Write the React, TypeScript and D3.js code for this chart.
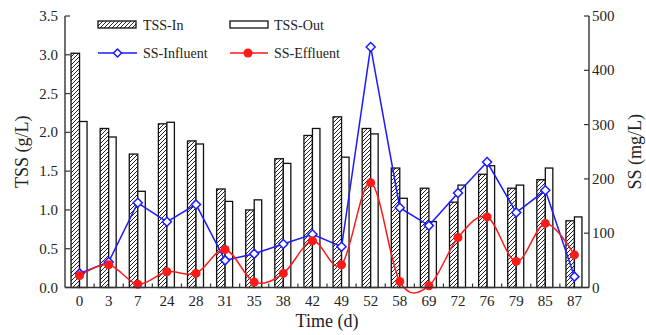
import React from "react";
import * as d3 from "d3";

const days = ["0", "3", "7", "24", "28", "31", "35", "38", "42", "49", "52", "58", "69", "72", "76", "79", "85", "87"];
const tssIn = [3.02, 2.05, 1.72, 2.11, 1.89, 1.27, 1.0, 1.66, 1.96, 2.2, 2.05, 1.54, 1.28, 1.1, 1.46, 1.28, 1.39, 0.86];
const tssOut = [2.14, 1.94, 1.24, 2.13, 1.85, 1.11, 1.13, 1.6, 2.05, 1.68, 1.98, 1.15, 0.85, 1.32, 1.57, 1.32, 1.54, 0.91];
const ssInfluent = [26, 47, 156, 121, 153, 50, 62, 80, 98, 75, 443, 147, 114, 174, 231, 138, 179, 20];
const ssEffluent = [22, 42, 6, 29, 26, 70, 10, 26, 86, 42, 193, 11, 3, 92, 130, 48, 118, 60];
const leftTicks = [0, 0.5, 1, 1.5, 2, 2.5, 3, 3.5];
const rightTicks = [0, 100, 200, 300, 400, 500];

const W = 646;
const H = 335;
const font = "'Liberation Serif', 'Times New Roman', serif";
const axisColor = "#333";

export default function App() {
  const left = 65;
  const right = 589;
  const bottom = 287.5;
  const top = 16;

  const x = d3.scaleBand<string>().domain(days).range([left, right]).padding(0);
  const yL = d3.scaleLinear().domain([0, 3.5]).range([bottom, top]);
  const yR = d3.scaleLinear().domain([0, 500]).range([bottom, top]);
  const cx = (i: number) => (x(days[i]) as number) + x.bandwidth() / 2;

  const blueLine = d3.line<number>().x((_, i) => cx(i)).y((d) => yR(d));
  const redLine = d3
    .line<number>()
    .x((_, i) => cx(i))
    .y((d) => yR(d))
    .curve(d3.curveCardinal.tension(0));

  const diamond = (px: number, py: number, r = 4.5) =>
    `M${px},${py - r}L${px + r},${py}L${px},${py + r}L${px - r},${py}Z`;

  const bw1 = 8.5;
  const bw2 = 7.5;

  return (
    <svg
      width={W}
      height={H}
      style={{ position: "absolute", left: 0, top: 0, background: "#fff" }}
      fontFamily={font}
    >
      <defs>
        <pattern id="hatch" patternUnits="userSpaceOnUse" width="4" height="4">
          <rect width="4" height="4" fill="#fff" />
          <path d="M-1,1 l2,-2 M0,4 l4,-4 M3,5 l2,-2" stroke="#222" strokeWidth="1" />
        </pattern>
      </defs>

      {/* bars */}
      {tssIn.map((v, i) => (
        <rect
          key={"in" + i}
          x={cx(i) - bw1}
          y={yL(v)}
          width={bw1}
          height={bottom - yL(v)}
          fill="url(#hatch)"
          stroke="#111"
          strokeWidth={1.3}
        />
      ))}
      {tssOut.map((v, i) => (
        <rect
          key={"out" + i}
          x={cx(i)}
          y={yL(v)}
          width={bw2}
          height={bottom - yL(v)}
          fill="#fff"
          stroke="#111"
          strokeWidth={1.3}
        />
      ))}

      {/* lines */}
      <path d={blueLine(ssInfluent) || ""} fill="none" stroke="#1a1aff" strokeWidth={1.5} />
      <path d={redLine(ssEffluent) || ""} fill="none" stroke="#ff1a1a" strokeWidth={1.5} />
      {ssInfluent.map((v, i) => (
        <path key={"d" + i} d={diamond(cx(i), yR(v))} fill="#fff" stroke="#1a1aff" strokeWidth={1.5} />
      ))}
      {ssEffluent.map((v, i) => (
        <circle key={"c" + i} cx={cx(i)} cy={yR(v)} r={4.5} fill="#ff1a1a" />
      ))}

      {/* axes */}
      <line x1={left} x2={right} y1={bottom} y2={bottom} stroke={axisColor} strokeWidth={1.4} />
      <line x1={left} x2={left} y1={top} y2={bottom} stroke={axisColor} strokeWidth={1.4} />
      <line x1={right} x2={right} y1={top} y2={bottom} stroke={axisColor} strokeWidth={1.4} />

      {days.slice(1).map((d) => (
        <line
          key={"xt" + d}
          x1={x(d) as number}
          x2={x(d) as number}
          y1={bottom}
          y2={bottom - 4}
          stroke={axisColor}
          strokeWidth={1.2}
        />
      ))}
      {days.map((d, i) => (
        <text key={"xl" + d} x={cx(i)} y={bottom + 18} fontSize={15} textAnchor="middle" fill="#222">
          {d}
        </text>
      ))}

      {leftTicks.map((t) => (
        <g key={"lt" + t}>
          <line x1={left} x2={left + 5} y1={yL(t)} y2={yL(t)} stroke={axisColor} strokeWidth={1.2} />
          <text x={left - 7} y={yL(t) + 5} fontSize={15} textAnchor="end" fill="#222">
            {d3.format(".1f")(t)}
          </text>
        </g>
      ))}
      {rightTicks.map((t) => (
        <g key={"rt" + t}>
          <line x1={right - 5} x2={right} y1={yR(t)} y2={yR(t)} stroke={axisColor} strokeWidth={1.2} />
          <text x={right + 3} y={yR(t) + 5} fontSize={15} textAnchor="start" fill="#222">
            {t}
          </text>
        </g>
      ))}

      {/* titles */}
      <text x={(left + right) / 2} y={327} fontSize={18} textAnchor="middle" fill="#222">
        Time (d)
      </text>
      <text
        transform={`translate(28,${(top + bottom) / 2}) rotate(-90)`}
        fontSize={18}
        textAnchor="middle"
        fill="#222"
      >
        TSS (g/L)
      </text>
      <text
        transform={`translate(641,${(top + bottom) / 2}) rotate(-90)`}
        fontSize={18}
        textAnchor="middle"
        fill="#222"
      >
        SS (mg/L)
      </text>

      {/* legend */}
      <rect x={98} y={21} width={38} height={7} fill="url(#hatch)" stroke="#111" strokeWidth={1.3} />
      <text x={143} y={29.5} fontSize={14} fill="#222">TSS-In</text>
      <rect x={230} y={21} width={38} height={7} fill="#fff" stroke="#111" strokeWidth={1.3} />
      <text x={274} y={29.5} fontSize={14} fill="#222">TSS-Out</text>

      <line x1={98} x2={137} y1={53} y2={53} stroke="#1a1aff" strokeWidth={1.5} />
      <path d={diamond(117.5, 53, 4)} fill="#fff" stroke="#1a1aff" strokeWidth={1.5} />
      <text x={143} y={58} fontSize={14} fill="#222">SS-Influent</text>
      <line x1={230} x2={268} y1={53} y2={53} stroke="#ff1a1a" strokeWidth={1.5} />
      <circle cx={248} cy={53} r={4.5} fill="#ff1a1a" />
      <text x={274} y={58} fontSize={14} fill="#222">SS-Effluent</text>
    </svg>
  );
}
